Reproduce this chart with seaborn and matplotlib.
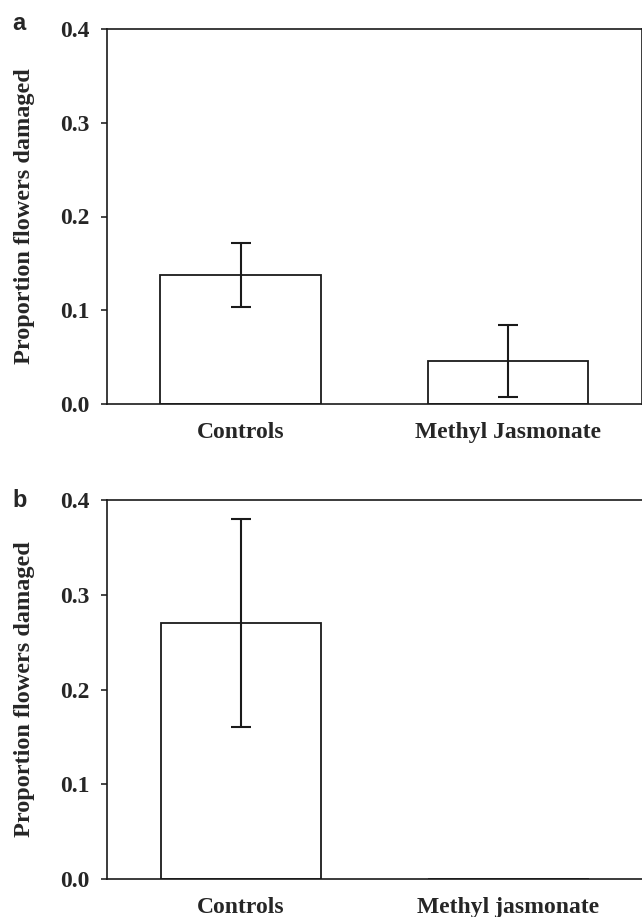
import numpy as np
import pandas as pd
import matplotlib
matplotlib.use('Agg')
import matplotlib.pyplot as plt
import seaborn as sn

# data
groups_a = ['Controls', 'Methyl Jasmonate']
means_a = [0.138, 0.046]
se_a = [0.034, 0.038]
groups_b = ['Controls', 'Methyl jasmonate']
means_b = [0.27, 0.0]
se_b = [0.11, 0.0]
yticks = [0.0, 0.1, 0.2, 0.3, 0.4]
ylab = 'Proportion flowers damaged'

sn.set_style('ticks')
plt.rcParams['font.family'] = ['Liberation Serif', 'DejaVu Serif']
plt.rcParams['font.weight'] = 'bold'

fig = plt.figure(figsize=(6.42, 9.17), dpi=100)
ax_a = fig.add_axes([107/642, 1-404/917, (641.5-107)/642, (404-29)/917])
ax_b = fig.add_axes([107/642, 1-879/917, (642-107)/642, (879-500)/917])


def panel(ax, groups, means, se, letter, right_spine):
    df = pd.DataFrame({'group': groups, 'mean': means})
    sn.barplot(data=df, x='group', y='mean', ax=ax, color='white',
               edgecolor='#1a1a1a', linewidth=1.3, width=0.6, errorbar=None,
               saturation=1)
    xs = np.arange(len(groups))
    m = np.array(se) > 0
    ax.errorbar(xs[m], np.array(means)[m], yerr=np.array(se)[m], fmt='none',
                ecolor='#1a1a1a', elinewidth=1.5, capsize=7, capthick=1.5)
    ax.set_xlim(-0.5, 1.5)
    ax.set_ylim(0, 0.4)
    ax.set_yticks(yticks)
    ax.set_yticklabels(['%.1f' % t for t in yticks])
    ax.set_xlabel('')
    ax.set_ylabel(ylab, fontsize=17.5, fontweight='bold', labelpad=18)
    ax.tick_params(axis='y', direction='out', length=4, width=1.2, pad=8.5,
                   labelsize=17)
    ax.tick_params(axis='x', length=0, pad=13, labelsize=17)
    for t in ax.get_xticklabels() + ax.get_yticklabels():
        t.set_fontweight('bold')
    for s in ax.spines.values():
        s.set_linewidth(1.2)
        s.set_color('#1a1a1a')
    ax.spines['right'].set_visible(right_spine)
    ax.text(-0.2, 1.0, letter, transform=ax.transAxes, fontsize=17,
            fontweight='bold', family=['Liberation Sans', 'DejaVu Sans'],
            ha='left', va='baseline')


panel(ax_a, groups_a, means_a, se_a, 'a', True)
panel(ax_b, groups_b, means_b, se_b, 'b', False)

# put panel letters at their spot in figure pixels
ax_a.texts[-1].set_transform(fig.transFigure)
ax_a.texts[-1].set_position((12/642, 1-30/917))
ax_b.texts[-1].set_transform(fig.transFigure)
ax_b.texts[-1].set_position((12/642, 1-507/917))

fig.savefig('out.png', dpi=100)
